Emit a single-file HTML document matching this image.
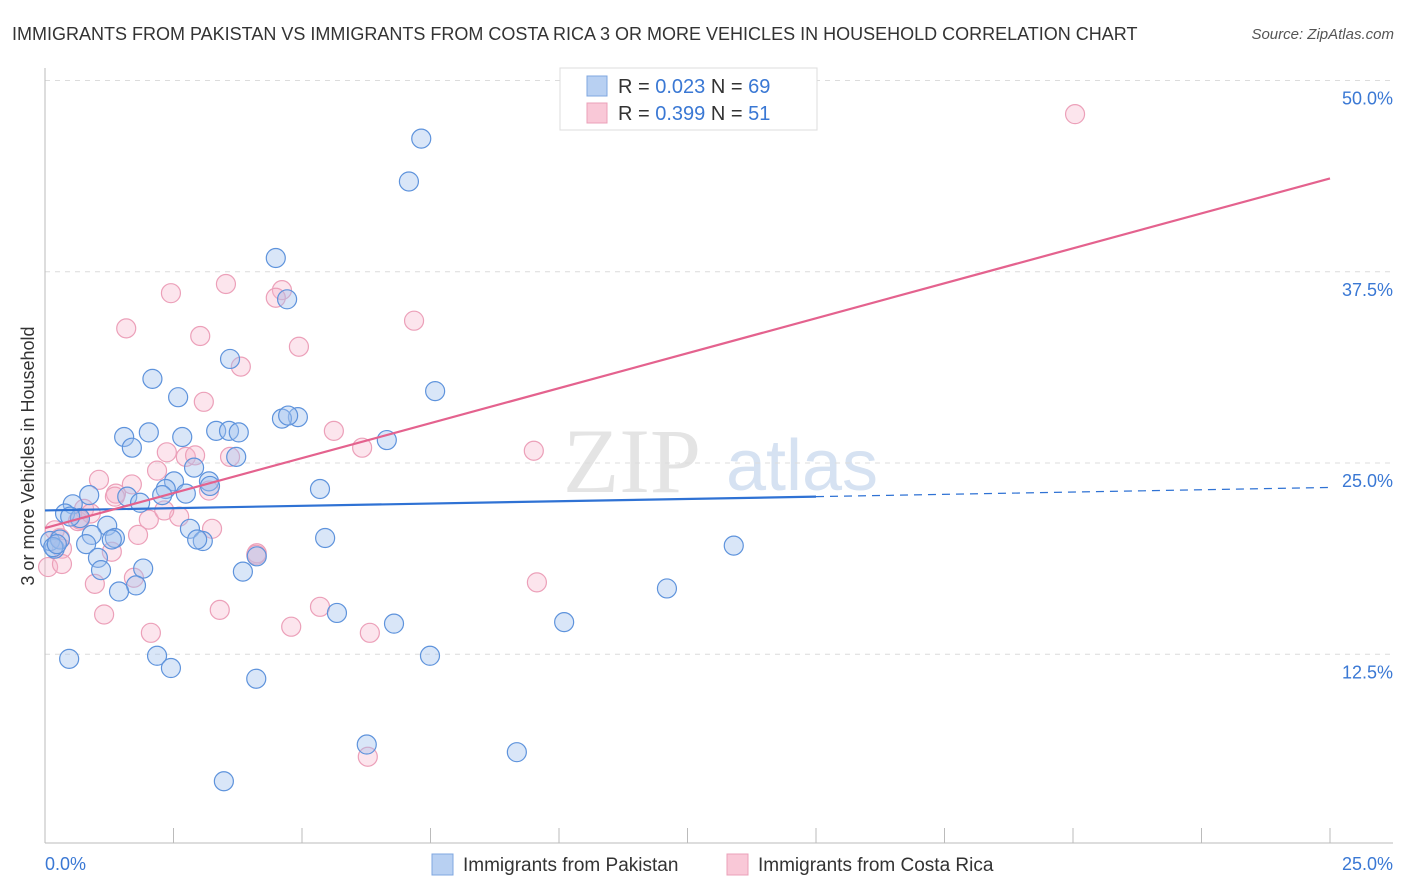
<!DOCTYPE html>
<html><head><meta charset="utf-8"><style>
body{margin:0;background:#fff;font-family:"Liberation Sans",sans-serif}
svg{display:block}
</style></head><body>
<svg width="1406" height="892" id="chart">
<text x="12" y="40" font-size="18" fill="#333">IMMIGRANTS FROM PAKISTAN VS IMMIGRANTS FROM COSTA RICA 3 OR MORE VEHICLES IN HOUSEHOLD CORRELATION CHART</text>
<text x="1394" y="39" font-size="15" fill="#555" font-style="italic" text-anchor="end">Source: ZipAtlas.com</text>
<g>
<text x="632" y="492" font-size="92" fill="#e4e4e4" font-family="Liberation Serif,serif" text-anchor="middle">ZIP</text>
<text x="802" y="490" font-size="72" fill="#d6e2f2" text-anchor="middle">atlas</text>
</g>
<g id="grid"></g>
<g id="axes"></g>
<g id="marks"></g>
<g id="lines"></g>
<text transform="translate(34,456) rotate(-90)" font-size="18" fill="#333" text-anchor="middle">3 or more Vehicles in Household</text>
<g>
<rect x="560" y="68" width="257" height="62" fill="#fff" stroke="#ddd"/>
<rect x="587" y="76" width="20" height="20" fill="#b8d0f2" stroke="#7fa7e0"/>
<rect x="587" y="103" width="20" height="20" fill="#f9c8d7" stroke="#eba0b8"/>
<text x="618" y="93" font-size="20" fill="#333">R = <tspan fill="#3a78d4">0.023</tspan>   N = <tspan fill="#3a78d4">69</tspan></text>
<text x="618" y="120" font-size="20" fill="#333">R = <tspan fill="#3a78d4">0.399</tspan>   N = <tspan fill="#3a78d4"> 51</tspan></text>
</g>
<g>
<rect x="432" y="854" width="21" height="21" fill="#b8d0f2" stroke="#7fa7e0"/>
<text x="463" y="871" font-size="19" fill="#333">Immigrants from Pakistan</text>
<rect x="727" y="854" width="21" height="21" fill="#f9c8d7" stroke="#eba0b8"/>
<text x="758" y="871" font-size="19" fill="#333">Immigrants from Costa Rica</text>
</g>
</svg>
<script>
const yTicks=[12.5,25,37.5,50];
const yTickLabels=["12.5%","25.0%","37.5%","50.0%"];
const xTickLabels=["0.0%","25.0%"];
const blueX=[7.32,7.08,4.49,4.71,3.60,2.09,2.59,7.59,4.92,4.61,3.33,3.58,3.77,2.02,1.54,2.67,1.69,6.65,3.72,2.90,2.51,3.19,2.35,2.74,5.35,0.86,0.54,1.60,1.85,2.28,0.39,0.68,1.21,0.91,1.36,2.82,3.07,2.96,5.45,13.40,0.19,0.10,0.29,0.80,1.03,1.09,1.91,4.12,3.85,1.77,1.44,12.10,5.68,6.79,10.10,0.47,2.18,2.45,7.49,4.11,6.26,9.18,3.48,0.16,1.30,0.49,3.21,4.73,0.23];
const blueY=[46.2,43.4,38.4,35.7,31.8,30.5,29.3,29.7,28.0,27.9,27.1,27.1,27.0,27.0,26.7,26.7,26.0,26.5,25.4,24.7,23.8,23.8,23.3,23.0,23.3,22.9,22.3,22.8,22.4,22.9,21.7,21.4,20.9,20.3,20.1,20.7,19.9,20.0,20.1,19.6,19.4,19.9,20.0,19.7,18.8,18.0,18.1,18.9,17.9,17.0,16.6,16.8,15.2,14.5,14.6,12.2,12.4,11.6,12.4,10.9,6.6,6.1,4.2,19.5,20.0,21.5,23.5,28.1,19.7];
const pinkX=[20.04,3.52,2.45,4.61,4.49,7.18,1.58,3.02,4.94,3.81,3.09,5.62,6.17,9.51,2.37,2.74,2.92,3.60,2.18,1.05,1.69,1.38,3.19,1.36,0.76,2.02,2.61,2.32,3.25,1.81,0.29,0.64,0.89,0.33,1.30,4.12,0.06,0.33,1.73,0.97,9.57,1.15,3.40,5.35,2.06,4.79,6.32,6.28,0.68,4.11,0.19];
const pinkY=[47.8,36.7,36.1,36.3,35.8,34.3,33.8,33.3,32.6,31.3,29.0,27.1,26.0,25.8,25.7,25.4,25.5,25.4,24.5,23.9,23.6,23.0,23.2,22.8,22.0,21.3,21.5,21.9,20.7,20.3,20.1,21.2,21.7,19.4,19.2,19.1,18.2,18.4,17.5,17.1,17.2,15.1,15.4,15.6,13.9,14.3,13.9,5.8,21.3,19.0,20.6];
const blueFit=[21.9,23.4];
const pinkFit=[20.75,43.6];
const NS="http://www.w3.org/2000/svg";
const X0=45,X1=1330,Y0=845.5,YPX=15.3;
function xs(v){return X0+(X1-X0)*v/25;}
function ys(v){return Y0-v*YPX;}
function mk(tag,attrs,parent){const e=document.createElementNS(NS,tag);for(const k in attrs)e.setAttribute(k,attrs[k]);parent.appendChild(e);return e;}
const grid=document.getElementById('grid'),axes=document.getElementById('axes'),marks=document.getElementById('marks'),lines=document.getElementById('lines');
yTicks.forEach((t,i)=>{
 const l=mk('line',{x1:45,x2:1393,y1:ys(t),y2:ys(t),stroke:'#dcdcdc','stroke-dasharray':'5,5'},grid);
 
 
 const tx=mk('text',{x:1393,y:ys(t)+24,'font-size':18,fill:'#3a78d4','text-anchor':'end'},axes);
 tx.textContent=yTickLabels[i];
 
 
});
const ax=mk('line',{x1:45,x2:1393,y1:843,y2:843,stroke:'#bbb'},axes);


const ay=mk('line',{x1:45,x2:45,y1:68,y2:843,stroke:'#bbb'},axes);


for(let i=0;i<=10;i++){
 const t=mk('line',{x1:xs(i*2.5),x2:xs(i*2.5),y1:828,y2:843,stroke:'#bbb'},axes);
 
 
}
[[0,'start',45],[25,'end',1393]].forEach((d,i)=>{
 const t=mk('text',{x:d[2],y:870,'font-size':18,fill:'#3a78d4','text-anchor':d[1]},axes);
 t.textContent=xTickLabels[i];
 
 
});
function dots(X,Y,fill,stroke,name){
 X.forEach((x,i)=>{
  const c=mk('circle',{cx:xs(x),cy:ys(Y[i]),r:9.5,fill:fill,stroke:stroke,'stroke-width':1.2},marks);
  
  
 });
}
dots(pinkX,pinkY,'rgba(246,180,202,0.35)','#eca0b9','point-costa-rica');
dots(blueX,blueY,'rgba(160,192,238,0.4)','#5e93dc','point-pakistan');
const bl=mk('line',{x1:xs(0),y1:ys(blueFit[0]),x2:xs(15),y2:ys(blueFit[0]+(blueFit[1]-blueFit[0])*15/25),stroke:'#2f72d4','stroke-width':2.2},lines);


const bd=mk('line',{x1:xs(15),y1:ys(blueFit[0]+(blueFit[1]-blueFit[0])*15/25),x2:xs(25),y2:ys(blueFit[1]),stroke:'#2f72d4','stroke-width':1.2,'stroke-dasharray':'8,6'},lines);


const pl=mk('line',{x1:xs(0),y1:ys(pinkFit[0]),x2:xs(25),y2:ys(pinkFit[1]),stroke:'#e4628e','stroke-width':2.2},lines);


</script>
</body></html>
